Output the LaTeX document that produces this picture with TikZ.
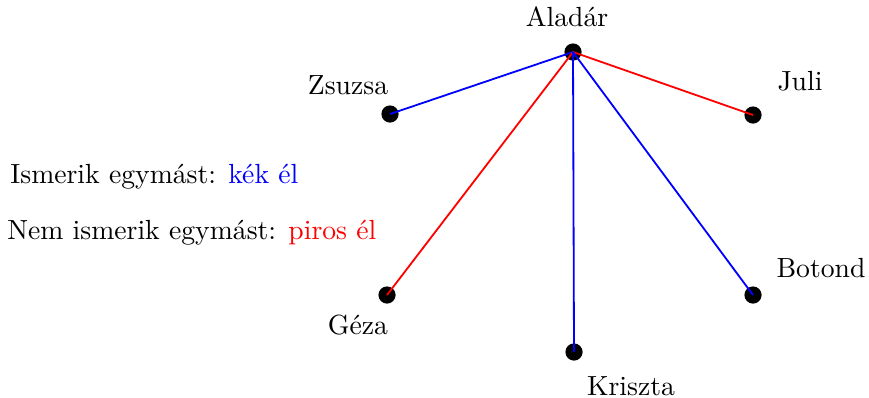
\documentclass[tikz,border=0pt]{standalone}
\usepackage{graphicx}
\newcommand{\bigt}[1]{\scalebox{1.53}{#1}}
\begin{document}
\begin{tikzpicture}[x=0.5525pt,y=-0.5525pt,
  dot/.style={circle,fill=black,inner sep=0pt,minimum size=9.5pt},
  lbl/.style={inner sep=0pt},
  edge/.style={line width=1pt}]
\useasboundingbox (0,0) rectangle (869,397);
\node[dot] (a) at (573,52) {};
\node[dot] (z) at (390,114) {};
\node[dot] (j) at (753,115) {};
\node[dot] (g) at (387,295) {};
\node[dot] (k) at (574,352) {};
\node[dot] (b) at (753,295) {};
\node[lbl] (la) at (567,17) {\bigt{Aladár}};
\node[lbl] (lz) at (348,85) {\bigt{Zsuzsa}};
\node[lbl] (lj) at (800,81) {\bigt{Juli}};
\node[lbl] (lg) at (358,325) {\bigt{Géza}};
\node[lbl] (lk) at (631,386) {\bigt{Kriszta}};
\node[lbl] (lb) at (821,268) {\bigt{Botond}};
\node[lbl,anchor=west] (t1) at (10,177) {\bigt{Ismerik egymást: \textcolor{blue}{kék él}}};
\node[lbl,anchor=west] (t2) at (7,233) {\bigt{Nem ismerik egymást: \textcolor{red}{piros él}}};
\draw[edge,blue] (a.center) -- (z.center);
\draw[edge,red] (a.center) -- (j.center);
\draw[edge,red] (a.center) -- (g.center);
\draw[edge,blue] (a.center) -- (k.center);
\draw[edge,blue] (a.center) -- (b.center);
\end{tikzpicture}
\end{document}
